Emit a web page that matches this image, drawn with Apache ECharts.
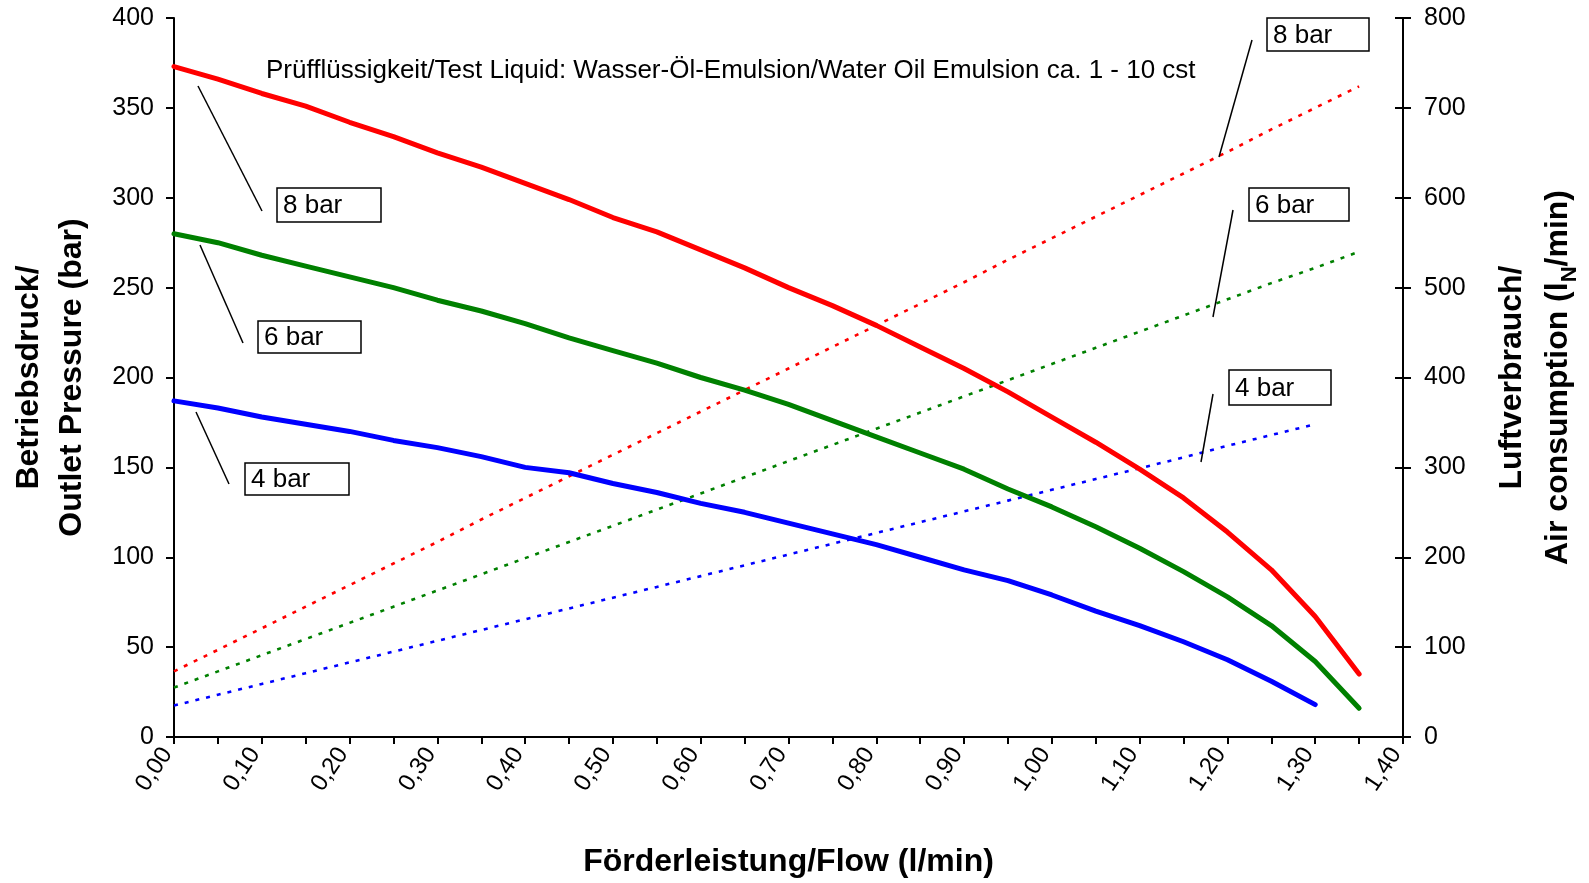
<!DOCTYPE html>
<html>
<head>
<meta charset="utf-8">
<script src="https://cdn.jsdelivr.net/npm/echarts@6/dist/echarts.min.js"></script>
<style>
html,body{margin:0;padding:0;background:#fff;}
#chart{width:1589px;height:883px;}
</style>
</head>
<body>
<div id="chart"></div>
<script>
// ---- data ----
var flowCategories = ['0,00','0,05','0,10','0,15','0,20','0,25','0,30','0,35','0,40','0,45','0,50','0,55','0,60','0,65','0,70','0,75','0,80','0,85','0,90','0,95','1,00','1,05','1,10','1,15','1,20','1,25','1,30','1,35','1,40'];
var pressure8bar = [373,366,358,351,342,334,325,317,308,299,289,281,271,261,250,240,229,217,205,192,178,164,149,133,114,93,67,35];
var pressure6bar = [280,275,268,262,256,250,243,237,230,222,215,208,200,193,185,176,167,158,149,138,128,117,105,92,78,62,42,16];
var pressure4bar = [187,183,178,174,170,165,161,156,150,147,141,136,130,125,119,113,107,100,93,87,79,70,62,53,43,31,18];
var air8bar = [73,97,121,145,169,193,217,242,266,290,314,338,362,386,410,434,458,482,506,531,555,579,603,627,651,676,700,724];
var air6bar = [55,73,91,109,127,145,163,181,199,217,235,253,271,289,307,325,343,361,379,397,415,433,451,469,487,505,522,540];
var air4bar = [35,47,59,71,83,95,107,119,131,143,155,167,179,191,203,215,227,239,251,263,275,287,299,311,324,336,348];
var leftTicks = {min:0, max:400, interval:50};
var rightTicks = {min:0, max:800, interval:100};
var titleText = 'Prüfflüssigkeit/Test Liquid: Wasser-Öl-Emulsion/Water Oil Emulsion ca. 1 - 10 cst';
var labelTexts = ['8 bar','6 bar','4 bar'];

var FONT = "'Liberation Sans', Arial, Helvetica, sans-serif";
var chart = echarts.init(document.getElementById('chart'), null, {renderer:'canvas'});

function solid(name, data, color){
  return {name:name, type:'line', yAxisIndex:0, data:data, symbol:'none', smooth:false,
    lineStyle:{color:color, width:5, cap:'round', join:'round'}, z:3, animation:false};
}
function dotted(name, data, color){
  return {name:name, type:'line', yAxisIndex:1, data:data, symbol:'none', smooth:false,
    lineStyle:{color:color, width:2.6, type:[4,7], cap:'butt'}, z:2, animation:false};
}

function box(x, y, w, h, txt){
  return [
    {type:'rect', shape:{x:x, y:y, width:w, height:h}, style:{fill:'#fff', stroke:'#000', lineWidth:1.5}, z:10},
    {type:'text', x:x+6, y:y+h/2+1, style:{text:txt, font:'26px ' + FONT, fill:'#000', textVerticalAlign:'middle', textAlign:'left'}, z:11}
  ];
}
function leader(x1,y1,x2,y2){
  return {type:'line', shape:{x1:x1,y1:y1,x2:x2,y2:y2}, style:{stroke:'#000', lineWidth:1.5}, z:10};
}

var graphics = [].concat(
  box(277,188,104,34,labelTexts[0]), [leader(198,86,262,211)],
  box(258,321,103,32,labelTexts[1]), [leader(200,245,243,343)],
  box(245,463,104,32,labelTexts[2]), [leader(196,412,229,484)],
  box(1267,18,102,33,labelTexts[0]), [leader(1252,40,1219,157)],
  box(1249,188,100,33,labelTexts[1]), [leader(1233,210,1213,317)],
  box(1229,370,102,35,labelTexts[2]), [leader(1213,394,1201,462)],
  [{type:'text', x:266, y:71, style:{text:titleText, font:'26px ' + FONT, fill:'#000', textVerticalAlign:'middle', textAlign:'left'}, z:11}]
);

var axisLabelStyle = {color:'#000', fontSize:25, fontFamily:FONT};

chart.setOption({
  animation:false,
  backgroundColor:'#fff',
  grid:{left:167, right:162, top:18, bottom:139, containLabel:false},
  xAxis:{
    type:'category', data:flowCategories, boundaryGap:false,
    axisLine:{show:true, lineStyle:{color:'#000', width:2}},
    axisTick:{show:true, interval:0, length:7, lineStyle:{color:'#000', width:2}},
    axisLabel:{interval:1, rotate:56, margin:3, padding:[0,12,0,0], color:'#000', fontSize:24, fontFamily:FONT},
    splitLine:{show:false},
    name:'Förderleistung/Flow (l/min)', nameLocation:'middle', nameGap:109,
    nameTextStyle:{color:'#000', fontSize:32, fontWeight:'bold', fontFamily:FONT}
  },
  yAxis:[
    {type:'value', position:'left', min:leftTicks.min, max:leftTicks.max, interval:leftTicks.interval,
     axisLine:{show:true, lineStyle:{color:'#000', width:2}},
     axisTick:{show:true, length:8, lineStyle:{color:'#000', width:2}},
     axisLabel:Object.assign({margin:20}, axisLabelStyle),
     splitLine:{show:false},
     name:'Betriebsdruck/\nOutlet Pressure (bar)', nameLocation:'middle', nameRotate:90, nameGap:80,
     nameTextStyle:{color:'#000', fontSize:32, fontWeight:'bold', fontFamily:FONT, lineHeight:43}},
    {type:'value', position:'right', min:rightTicks.min, max:rightTicks.max, interval:rightTicks.interval,
     axisLine:{show:true, lineStyle:{color:'#000', width:2}},
     axisTick:{show:true, length:8, lineStyle:{color:'#000', width:2}},
     axisLabel:Object.assign({margin:21}, axisLabelStyle),
     splitLine:{show:false},
     name:'Luftverbrauch/\nAir consumption (l{n|N}/min)', nameLocation:'middle', nameRotate:90, nameGap:86,
     nameTextStyle:{color:'#000', fontSize:32, fontWeight:'bold', fontFamily:FONT, lineHeight:46,
       rich:{n:{fontSize:22, fontWeight:'bold', fontFamily:FONT, color:'#000', verticalAlign:'bottom', lineHeight:46}}}},
    {type:'value', position:'right', min:rightTicks.min, max:rightTicks.max, interval:rightTicks.interval,
     axisLine:{show:false}, axisLabel:{show:false}, splitLine:{show:false},
     axisTick:{show:true, inside:true, length:8, lineStyle:{color:'#000', width:2}}}
  ],
  series:[
    dotted('Luft 8 bar', air8bar, '#ff0000'),
    dotted('Luft 6 bar', air6bar, '#008000'),
    dotted('Luft 4 bar', air4bar, '#0000ff'),
    solid('Druck 8 bar', pressure8bar, '#ff0000'),
    solid('Druck 6 bar', pressure6bar, '#008000'),
    solid('Druck 4 bar', pressure4bar, '#0000ff')
  ],
  graphic:graphics
});
</script>
</body>
</html>
